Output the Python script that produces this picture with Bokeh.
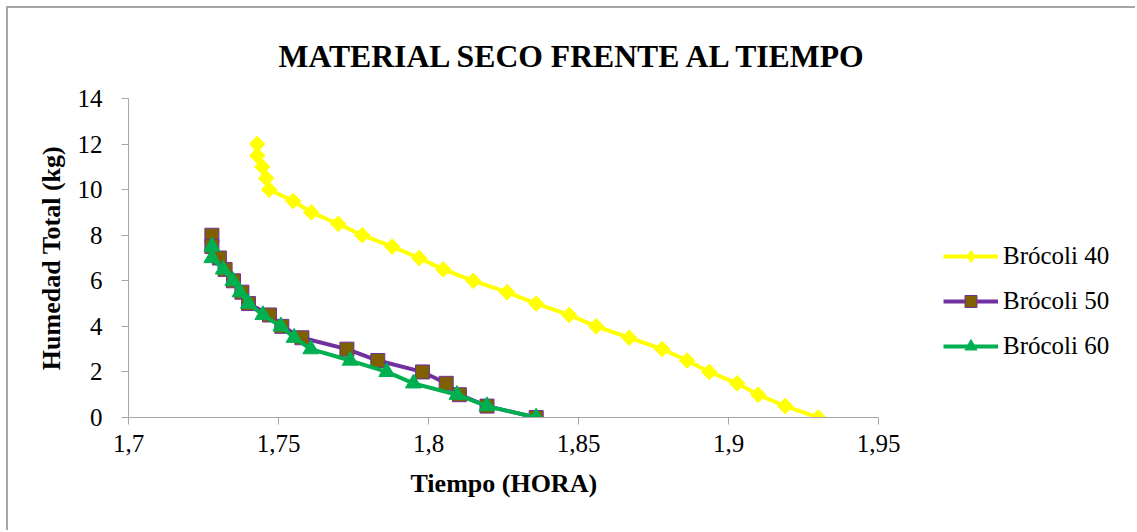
from bokeh.plotting import figure
from bokeh.models import Legend, LegendItem, FixedTicker, Title
from bokeh.embed import file_html
from bokeh.resources import INLINE
import numpy as np

# Humedad total (kg) frente al tiempo (h) para tres temperaturas de secado
tiempo_40 = [1.7429, 1.7429, 1.7446, 1.7459, 1.7469, 1.7549, 1.7609, 1.7699,
             1.7779, 1.7879, 1.7969, 1.8049, 1.8149, 1.8262, 1.8359, 1.8469,
             1.8559, 1.8669, 1.8779, 1.8862, 1.8936, 1.9029, 1.9099, 1.9189,
             1.9299]
humedad_40 = [12, 11.5, 11, 10.5, 10, 9.5, 9, 8.5, 8, 7.5, 7, 6.5, 6, 5.5, 5,
              4.5, 4, 3.5, 3, 2.5, 2, 1.5, 1, 0.5, 0]

tiempo_50 = [1.7278, 1.7278, 1.7303, 1.7322, 1.7350, 1.7378, 1.7400, 1.7470,
             1.7511, 1.7578, 1.7728, 1.7831, 1.7980, 1.8059, 1.8103, 1.8195,
             1.8359]
humedad_50 = [8, 7.5, 7, 6.5, 6, 5.5, 5, 4.5, 4, 3.5, 3, 2.5, 2, 1.5, 1, 0.5, 0]

tiempo_60 = [1.7278, 1.7278, 1.7316, 1.7348, 1.7372, 1.7400, 1.7448, 1.7508,
             1.7552, 1.7608, 1.7739, 1.7861, 1.7950, 1.8095, 1.8195, 1.8359]
humedad_60 = [7.5, 7, 6.5, 6, 5.5, 5, 4.5, 4, 3.5, 3, 2.5, 2, 1.5, 1, 0.5, 0]

x_ticks = [1.7, 1.75, 1.8, 1.85, 1.9, 1.95]
x_tick_labels = ["1,7", "1,75", "1,8", "1,85", "1,9", "1,95"]
y_ticks = [0, 2, 4, 6, 8, 10, 12, 14]

SERIF = "Liberation Serif"
AXIS_GREY = "#a6a6a6"

# The frame runs to the right edge so the legend sits inside it;
# the x axis itself is bounded to 1.7 - 1.95.
FRAME_PX = 1129 - 120
X_END = 1.7 + FRAME_PX / 3000

p = figure(
    width=1129, height=524,
    x_range=(1.7, X_END), y_range=(0, 14),
    output_backend="svg", toolbar_location=None,
    min_border_left=120, min_border_right=0,
    min_border_top=90, min_border_bottom=115,
    title="MATERIAL SECO FRENTE AL TIEMPO",
)
p.styles = {
    "border-left": f"2px solid {AXIS_GREY}",
    "border-top": f"2px solid {AXIS_GREY}",
    "margin-left": "6px",
    "margin-top": "6px",
}

p.title.text_font = SERIF
p.title.text_font_size = "31.7px"
p.title.text_font_style = "bold"
p.title.text_color = "black"
p.title.align = "left"
p.title.offset = 150
p.title.standoff = 50

p.xgrid.visible = False
p.ygrid.visible = False
p.outline_line_color = None

for ax in (p.xaxis[0], p.yaxis[0]):
    ax.axis_line_color = AXIS_GREY
    ax.major_tick_line_color = AXIS_GREY
    ax.minor_tick_line_color = None
    ax.major_tick_in = 0
    ax.major_tick_out = 7
    ax.major_label_text_font = SERIF
    ax.major_label_text_font_size = "25px"
    ax.major_label_text_color = "black"
    ax.axis_label_text_font = SERIF
    ax.axis_label_text_font_size = "26px"
    ax.axis_label_text_font_style = "bold"
    ax.axis_label_text_color = "black"

p.xaxis.ticker = FixedTicker(ticks=x_ticks)
p.xaxis.bounds = (x_ticks[0], x_ticks[-1])
p.xaxis.major_label_overrides = dict(zip(x_ticks, x_tick_labels))
p.xaxis.major_label_standoff = 10

# x-axis title, centred under the bounded axis (1.7 - 1.95)
x_title = Title(
    text="Tiempo (HORA)", align="left", offset=282, standoff=25,
    text_font=SERIF, text_font_size="26px", text_font_style="bold",
    text_color="black",
)
p.add_layout(x_title, "below")

p.yaxis.ticker = FixedTicker(ticks=y_ticks)
p.yaxis.axis_label = "Humedad Total (kg)"
p.yaxis.major_label_standoff = 19
p.yaxis.axis_label_standoff = 9

# Brócoli 40: amarillo, rombos (el rombo estrecho da el símbolo de la leyenda)
l40 = p.line(tiempo_40, humedad_40, line_color="#FFFF00", line_width=4)
k40 = p.scatter(tiempo_40, humedad_40, marker="diamond", size=15,
                fill_color="#FFFF00", line_color="#FFFF00")
m40 = p.scatter(tiempo_40, humedad_40, marker="square", angle=np.pi / 4,
                size=11, fill_color="#FFFF00", line_color="#FFFF00")

# Brócoli 50: morado, cuadrados marrones
l50 = p.line(tiempo_50, humedad_50, line_color="#7030A0", line_width=4)
m50 = p.scatter(tiempo_50, humedad_50, marker="square", size=14,
                fill_color="#7F6000", line_color="#7030A0", line_width=1)

# Brócoli 60: verde, triángulos
l60 = p.line(tiempo_60, humedad_60, line_color="#00B050", line_width=4)
m60 = p.scatter(tiempo_60, humedad_60, marker="triangle", size=16,
                fill_color="#00B050", line_color="#00B050")

legend = Legend(
    items=[
        LegendItem(label="Brócoli 40", renderers=[l40, k40]),
        LegendItem(label="Brócoli 50", renderers=[l50, m50]),
        LegendItem(label="Brócoli 60", renderers=[l60, m60]),
    ],
    location=(815, 56),
    border_line_color=None,
    background_fill_alpha=0,
    padding=0, margin=0,
    spacing=15,
    glyph_width=55, glyph_height=30,
    label_height=30,
    label_standoff=5,
    label_text_font=SERIF,
    label_text_font_size="25px",
    label_text_color="black",
)
p.add_layout(legend, "center")

open("out.html", "w").write(file_html(p, INLINE))
